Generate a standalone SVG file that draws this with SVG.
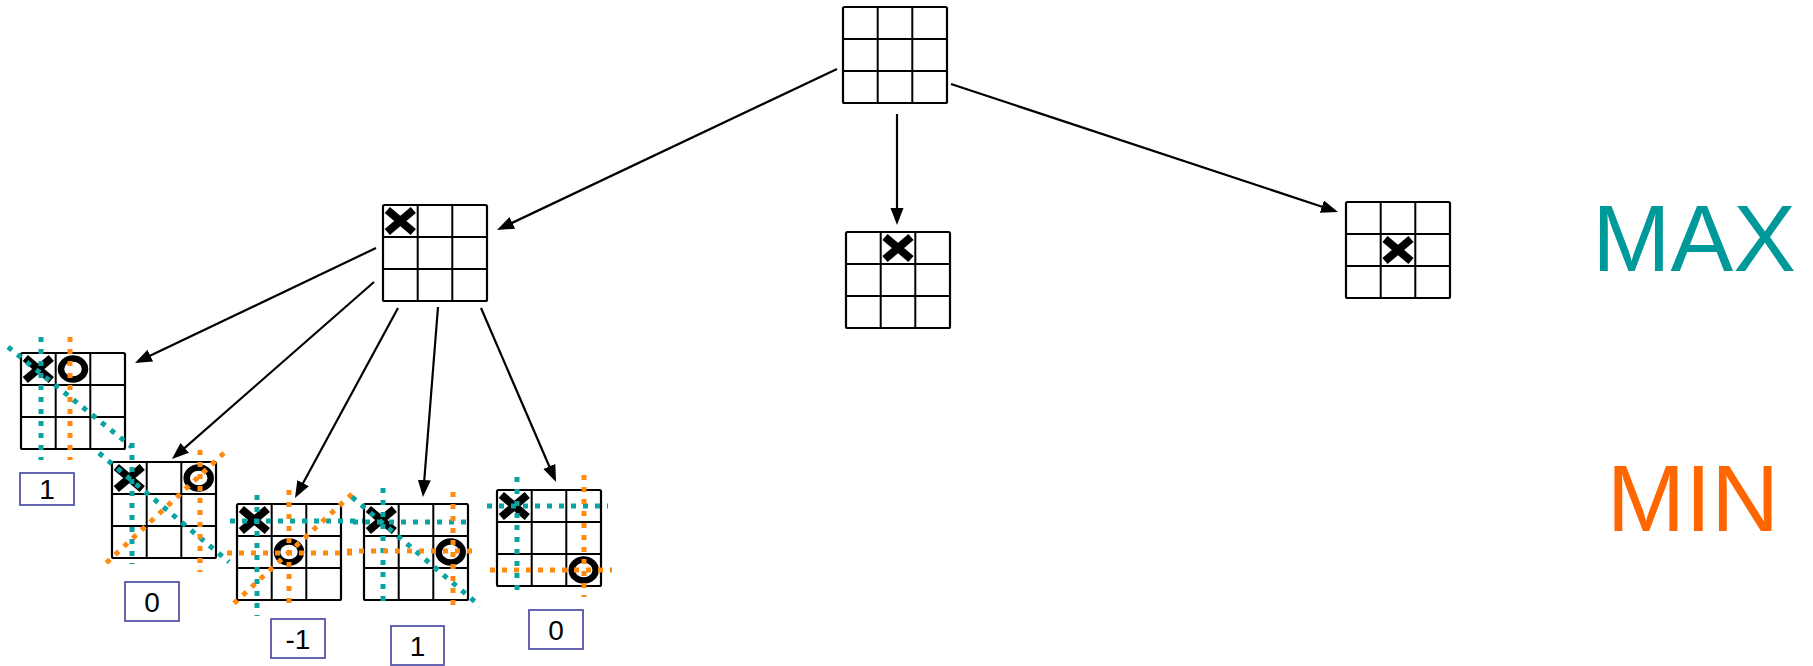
<svg xmlns="http://www.w3.org/2000/svg" xmlns:xlink="http://www.w3.org/1999/xlink" width="1813" height="666" viewBox="0 0 1813 666">
<style>
.grid{fill:#fff;stroke:#000;stroke-width:2.2}
.gl{fill:none;stroke:#000;stroke-width:2}
.xm{fill:none;stroke:#000;stroke-width:8}
.om{fill:none;stroke:#000;stroke-width:6.5}
.dt{fill:none;stroke:#0AA3A3;stroke-width:5;stroke-dasharray:5 7}
.do{fill:none;stroke:#FF8A10;stroke-width:5;stroke-dasharray:5 7}
.edge{fill:none;stroke:#000;stroke-width:2.2;marker-end:url(#ah)}
.score{fill:#fff;stroke:#5555AA;stroke-width:1.8}
.st{font-family:"Liberation Sans",Arial,sans-serif;font-size:28px;fill:#000;text-anchor:middle}
.big{font-family:"Liberation Sans",Arial,sans-serif;font-size:94px;text-anchor:middle}
</style>
<defs>
<g id="board"><rect class="grid" x="0" y="0" width="104" height="96" rx="1.5"/><path class="gl" d="M34.7,0V96M69.3,0V96M0,32H104M0,64H104"/></g>
<path id="xm" class="xm" d="M-13,-11L13,11M13,-11L-13,11"/>
<ellipse id="om" class="om" cx="0" cy="0" rx="12" ry="10.5"/>
<marker id="ah" markerUnits="userSpaceOnUse" markerWidth="18" markerHeight="14" refX="5" refY="6.5" orient="auto"><path d="M0,0L17,6.5L0,13z" fill="#000"/></marker>
</defs>
<g id="connectors">
<line class="edge" x1="837" y1="69" x2="507.8" y2="224.9"/>
<line class="edge" x1="897" y1="114" x2="897" y2="213"/>
<line class="edge" x1="951" y1="84" x2="1326.6" y2="208.2"/>
<line class="edge" x1="376" y1="248" x2="145.8" y2="357.8"/>
<line class="edge" x1="374" y1="282" x2="181" y2="451.1"/>
<line class="edge" x1="398" y1="308" x2="300.7" y2="487.5"/>
<line class="edge" x1="438" y1="307" x2="423.9" y2="485"/>
<line class="edge" x1="481" y1="308" x2="551.3" y2="471"/>
</g>
<g id="root"><use href="#board" x="843" y="7"/></g>
<g id="n-x-corner"><use href="#board" x="383" y="205"/><use href="#xm" x="400.3" y="221"/></g>
<g id="n-x-edge"><use href="#board" x="846" y="232"/><use href="#xm" x="898" y="248"/></g>
<g id="n-x-center"><use href="#board" x="1346" y="202"/><use href="#xm" x="1398" y="250"/></g>
<g id="leaf1">
<use href="#board" x="21" y="353"/><use href="#xm" x="38.3" y="369"/><use href="#om" x="73" y="369"/>
<line class="dt" x1="41" y1="337" x2="41" y2="460"/>
<line class="do" x1="70" y1="337" x2="70" y2="460"/>
<line class="dt" x1="8" y1="347" x2="132" y2="447"/>
<rect class="score" x="20" y="473" width="54" height="32"/><text class="st" x="47" y="499">1</text>
</g>
<g id="leaf2">
<use href="#board" x="112" y="462"/><use href="#xm" x="129.3" y="478"/><use href="#om" x="198.7" y="478"/>
<line class="dt" x1="132" y1="443" x2="132" y2="564"/>
<line class="dt" x1="99" y1="453" x2="229" y2="562"/>
<line class="do" x1="200" y1="450" x2="200" y2="572"/>
<line class="do" x1="224" y1="453" x2="102" y2="567"/>
<rect class="score" x="125" y="582" width="54" height="39"/><text class="st" x="152" y="612">0</text>
</g>
<g id="leaf3">
<use href="#board" x="237" y="504"/><use href="#xm" x="254.3" y="520"/><use href="#om" x="289" y="552"/>
<line class="dt" x1="257" y1="495" x2="257" y2="616"/>
<line class="dt" x1="230" y1="521" x2="367" y2="521"/>
<line class="do" x1="289" y1="490" x2="289" y2="610"/>
<line class="do" x1="227" y1="553" x2="358" y2="553"/>
<line class="do" x1="352" y1="494" x2="229" y2="608"/>
<rect class="score" x="271" y="619" width="54" height="39"/><text class="st" x="298" y="649">-1</text>
</g>
<g id="leaf4">
<use href="#board" x="364" y="504"/><use href="#xm" x="381.3" y="520"/><use href="#om" x="450.7" y="552"/>
<line class="dt" x1="383" y1="488" x2="383" y2="608"/>
<line class="dt" x1="353" y1="522" x2="473" y2="522"/>
<line class="dt" x1="352" y1="497" x2="480" y2="606"/>
<line class="do" x1="453" y1="492" x2="453" y2="612"/>
<line class="do" x1="347" y1="551" x2="478" y2="551"/>
<rect class="score" x="391" y="626" width="53" height="39"/><text class="st" x="417.5" y="656">1</text>
</g>
<g id="leaf5">
<use href="#board" x="497" y="490"/><use href="#xm" x="514.3" y="506"/><use href="#om" x="583.7" y="570"/>
<line class="dt" x1="517" y1="477" x2="517" y2="597"/>
<line class="dt" x1="487" y1="506" x2="608" y2="506"/>
<line class="do" x1="584" y1="475" x2="584" y2="597"/>
<line class="do" x1="490" y1="570" x2="612" y2="570"/>
<rect class="score" x="529" y="610" width="54" height="39"/><text class="st" x="556" y="640">0</text>
</g>
<g id="labels">
<text class="big" x="1694" y="271" fill="#009999">MAX</text>
<text class="big" x="1693" y="531" fill="#FF6600">MIN</text>
</g>
</svg>
